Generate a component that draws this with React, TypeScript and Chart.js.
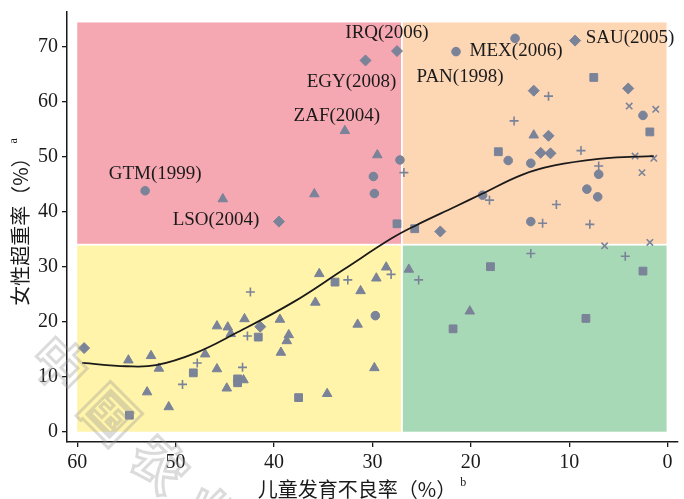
import React, { useEffect, useRef } from 'react';
import { Chart, registerables } from 'chart.js';

Chart.register(...registerables);

// Stunting rate among children (x, %) vs. overweight rate among women (y, %)
const circleValues: number[][] = [
  [53.1, 43.8], [27.2, 49.4], [29.9, 46.4], [29.8, 43.3], [21.5, 69.1],
  [15.5, 71.5], [2.5, 57.5], [16.2, 49.3], [13.9, 48.8], [7.0, 46.8],
  [18.8, 43.0], [8.2, 44.1], [7.1, 42.7], [13.9, 38.2], [29.7, 21.1],
];

const triangleValues: number[][] = [
  [32.8, 54.7], [29.5, 50.3], [45.2, 42.3], [35.9, 43.2], [13.6, 53.9],
  [26.3, 29.5], [20.1, 21.9], [54.8, 13.0], [52.5, 13.8], [51.7, 11.5],
  [52.9, 7.2], [50.7, 4.5], [47.0, 14.1], [45.8, 19.2], [44.7, 19.0],
  [44.4, 17.8], [45.8, 11.4], [44.8, 7.9], [43.1, 9.4], [43.0, 20.5],
  [39.4, 20.4], [38.5, 17.6], [38.7, 16.5], [39.3, 14.4], [35.8, 23.5],
  [35.4, 28.7], [34.6, 6.9], [31.2, 25.6], [29.6, 27.9], [28.6, 29.9],
  [31.5, 19.5], [29.8, 11.6],
];

const squareValues: number[][] = [
  [27.5, 37.8], [25.7, 36.9], [7.5, 64.4], [1.8, 54.5], [17.2, 50.9],
  [2.5, 29.2], [18.0, 30.0], [21.8, 18.7], [8.3, 20.6], [54.7, 3.0],
  [48.2, 10.7], [43.7, 9.6], [43.7, 8.9], [41.6, 17.2], [37.5, 6.2],
  [33.8, 27.2],
];

const diamondValues: number[][] = [
  [27.5, 69.2], [30.7, 67.5], [39.5, 38.2], [9.4, 71.1], [13.6, 62.0],
  [4.0, 62.4], [12.1, 53.8], [12.9, 50.7], [11.9, 50.6], [23.1, 36.4],
  [59.3, 15.2], [41.4, 19.1],
];

const plusValues: number[][] = [
  [26.8, 47.1], [12.1, 61.0], [15.6, 56.5], [8.8, 51.1], [7.0, 48.3],
  [18.1, 42.1], [11.3, 41.3], [12.7, 37.9], [7.9, 37.7], [13.9, 32.4],
  [4.3, 31.9], [25.3, 27.6], [28.1, 28.6], [32.5, 27.6], [42.4, 25.4],
  [42.7, 17.4], [47.8, 12.5], [49.3, 8.6], [43.2, 11.7],
];

const crossValues: number[][] = [
  [3.9, 59.2], [1.2, 58.6], [3.3, 50.1], [1.4, 49.7], [2.6, 47.1],
  [6.4, 33.8], [1.8, 34.4],
];

// Fitted trend line
const trendValues: number[][] = [
  [59.5, 12.5], [55.0, 11.9], [52.0, 12.1], [48.0, 14.3], [44.0, 17.8],
  [38.0, 23.6], [33.0, 29.4], [28.0, 35.2], [25.6, 37.5], [21.6, 40.9],
  [18.8, 43.3], [14.8, 46.7], [11.5, 48.4], [7.0, 49.6], [3.4, 50.0],
  [1.4, 50.1],
];

// Country labels, pointing at a mark in one of the series above
const labelTexts = ['IRQ(2006)', 'EGY(2008)', 'ZAF(2004)', 'GTM(1999)', 'LSO(2004)', 'MEX(2006)', 'PAN(1998)', 'SAU(2005)'];
const labelSeries = ['diamond', 'diamond', 'triangle', 'circle', 'diamond', 'circle', 'circle', 'diamond'];
const labelIndex = [0, 1, 0, 0, 2, 5, 4, 3];

const xTickValues = [60, 50, 40, 30, 20, 10, 0];
const yTickValues = [0, 10, 20, 30, 40, 50, 60, 70];

// Quadrant thresholds and extents
const stuntingCut = 27;
const overweightCut = 34;
const zoneX = [60, 0.1];
const zoneY = [0, 74.4];

const xTitle = '儿童发育不良率（%）';
const xTitleNote = 'b';
const yTitle = '女性超重率（%）';
const yTitleNote = 'a';
const watermark = '中国农业';

const MARK = '#7a8398';
const INK = '#1a1a1a';
const SERIF = "'Liberation Serif', 'Times New Roman', serif";
const CJK = "'Noto Sans CJK SC', 'Noto Sans', sans-serif";

// pixel offsets of each label centre from its mark
const labelOffsets: number[][] = [
  [-10, -18], [-14, 22], [-8, -15], [10, -17], [-63, -2], [1, 13], [4, 25], [55, -3],
];

const toPoints = (rows: number[][]) => rows.map(([x, y]) => ({ x, y }));

const seriesMap: Record<string, number[][]> = {
  circle: circleValues,
  triangle: triangleValues,
  rect: squareValues,
  diamond: diamondValues,
  plus: plusValues,
  cross: crossValues,
};

const zonesPlugin = {
  id: 'zones',
  beforeDatasetsDraw(chart: any) {
    const { ctx, scales } = chart;
    const xs = scales.x;
    const ys = scales.y;
    const xl = xs.getPixelForValue(zoneX[0]);
    const xm = xs.getPixelForValue(stuntingCut);
    const xr = xs.getPixelForValue(zoneX[1]);
    const yt = ys.getPixelForValue(zoneY[1]);
    const ym = ys.getPixelForValue(overweightCut);
    const yb = ys.getPixelForValue(zoneY[0]);
    const gap = 0.9;
    ctx.save();
    ctx.fillStyle = '#f5a8b2';
    ctx.fillRect(xl, yt, xm - gap - xl, ym - gap - yt);
    ctx.fillStyle = '#fdd6b4';
    ctx.fillRect(xm + gap, yt, xr - xm - gap, ym - gap - yt);
    ctx.fillStyle = '#fff4a9';
    ctx.fillRect(xl, ym + gap, xm - gap - xl, yb - ym - gap);
    ctx.fillStyle = '#a8d9b6';
    ctx.fillRect(xm + gap, ym + gap, xr - xm - gap, yb - ym - gap);
    ctx.restore();
  },
};

const labelsPlugin = {
  id: 'countryLabels',
  afterDatasetsDraw(chart: any) {
    const { ctx, scales } = chart;
    ctx.save();
    ctx.font = `19px ${SERIF}`;
    ctx.fillStyle = INK;
    ctx.textAlign = 'center';
    ctx.textBaseline = 'middle';
    labelTexts.forEach((text, i) => {
      const [vx, vy] = seriesMap[labelSeries[i]][labelIndex[i]];
      const px = scales.x.getPixelForValue(vx) + labelOffsets[i][0];
      const py = scales.y.getPixelForValue(vy) + labelOffsets[i][1];
      ctx.fillText(text, px, py);
    });
    ctx.restore();
  },
};

const titlesPlugin = {
  id: 'axisTitles',
  afterDraw(chart: any) {
    const { ctx } = chart;
    ctx.save();
    ctx.fillStyle = INK;
    ctx.textBaseline = 'middle';

    // x title with superscript note
    ctx.font = `20px ${CJK}`;
    const wx = ctx.measureText(xTitle).width;
    ctx.font = `12px ${SERIF}`;
    const wn = ctx.measureText(xTitleNote).width;
    const x0 = 362 - (wx + 4 + wn) / 2;
    ctx.font = `20px ${CJK}`;
    ctx.textAlign = 'left';
    ctx.fillText(xTitle, x0, 489);
    ctx.font = `12px ${SERIF}`;
    ctx.fillText(xTitleNote, x0 + wx + 4, 483);

    // y title, rotated
    ctx.translate(20, 222);
    ctx.rotate(-Math.PI / 2);
    ctx.font = `20px ${CJK}`;
    const wy = ctx.measureText(yTitle).width;
    ctx.font = `12px ${SERIF}`;
    const wa = ctx.measureText(yTitleNote).width;
    const y0 = -(wy + 4 + wa) / 2;
    ctx.font = `20px ${CJK}`;
    ctx.fillText(yTitle, y0, 0);
    ctx.font = `12px ${SERIF}`;
    ctx.fillText(yTitleNote, y0 + wy + 4, -6);
    ctx.restore();

    // faint stamp across the lower-left corner
    ctx.save();
    ctx.font = `bold 54px ${CJK}`;
    ctx.textAlign = 'center';
    ctx.textBaseline = 'middle';
    ctx.strokeStyle = 'rgba(150,150,150,0.34)';
    ctx.lineWidth = 3;
    Array.from(watermark).forEach((ch, i) => {
      ctx.save();
      ctx.translate(60 + i * 50, 364 + i * 50);
      ctx.rotate(Math.PI / 4);
      ctx.strokeText(ch, 0, 0);
      ctx.restore();
    });
    ctx.restore();
  },
};

const markerBase = {
  backgroundColor: MARK,
  borderColor: MARK,
  borderWidth: 1,
};

export default function App() {
  const canvasRef = useRef<HTMLCanvasElement>(null);

  useEffect(() => {
    if (!canvasRef.current) return;
    const chart = new Chart(canvasRef.current, {
      type: 'scatter',
      data: {
        datasets: [
          {
            type: 'line',
            data: toPoints(trendValues),
            borderColor: INK,
            borderWidth: 1.8,
            pointRadius: 0,
            fill: false,
            tension: 0.4,
          } as any,
          { ...markerBase, data: toPoints(circleValues), pointStyle: 'circle', pointRadius: 4.3 },
          { ...markerBase, data: toPoints(triangleValues), pointStyle: 'triangle', pointRadius: 5.5 },
          { ...markerBase, data: toPoints(squareValues), pointStyle: 'rect', pointRadius: 5.5 },
          { ...markerBase, data: toPoints(diamondValues), pointStyle: 'rectRot', pointRadius: 5.5 },
          { ...markerBase, data: toPoints(plusValues), pointStyle: 'cross', pointRadius: 4.5, borderWidth: 1.6 },
          { ...markerBase, data: toPoints(crossValues), pointStyle: 'crossRot', pointRadius: 4.5, borderWidth: 1.6 },
        ],
      },
      options: {
        animation: false,
        responsive: false,
        devicePixelRatio: 1,
        layout: { padding: { top: 12, right: 4, left: 0, bottom: 0 } },
        plugins: {
          legend: { display: false },
          tooltip: { enabled: false },
        },
        scales: {
          x: {
            type: 'linear',
            reverse: true,
            min: -1.01,
            max: 61.04,
            afterFit: (s: any) => { s.height = 57; s.paddingLeft = 0; s.paddingRight = 0; },
            afterBuildTicks: (s: any) => { s.ticks = xTickValues.map((v) => ({ value: v })); },
            grid: { drawOnChartArea: false, drawTicks: true, tickLength: 5, color: INK, lineWidth: 1.3 },
            border: { display: true, color: INK, width: 1.5 },
            ticks: { font: { family: SERIF, size: 20 }, color: INK, padding: 4, maxRotation: 0 },
          },
          y: {
            type: 'linear',
            min: -1.87,
            max: 76.3,
            afterFit: (s: any) => { s.width = 67; s.paddingTop = 0; s.paddingBottom = 0; },
            afterBuildTicks: (s: any) => { s.ticks = yTickValues.map((v) => ({ value: v })); },
            grid: { drawOnChartArea: false, drawTicks: true, tickLength: 5, color: INK, lineWidth: 1.3 },
            border: { display: true, color: INK, width: 1.5 },
            ticks: { font: { family: SERIF, size: 20 }, color: INK, padding: 4 },
          },
        },
      },
      plugins: [zonesPlugin, labelsPlugin, titlesPlugin],
    } as any);
    return () => chart.destroy();
  }, []);

  return (
    <div style={{ position: 'fixed', left: 0, top: 0, width: 684, height: 499, background: '#fff' }}>
      <canvas ref={canvasRef} width={684} height={499} style={{ display: 'block', width: 684, height: 499 }} />
    </div>
  );
}
